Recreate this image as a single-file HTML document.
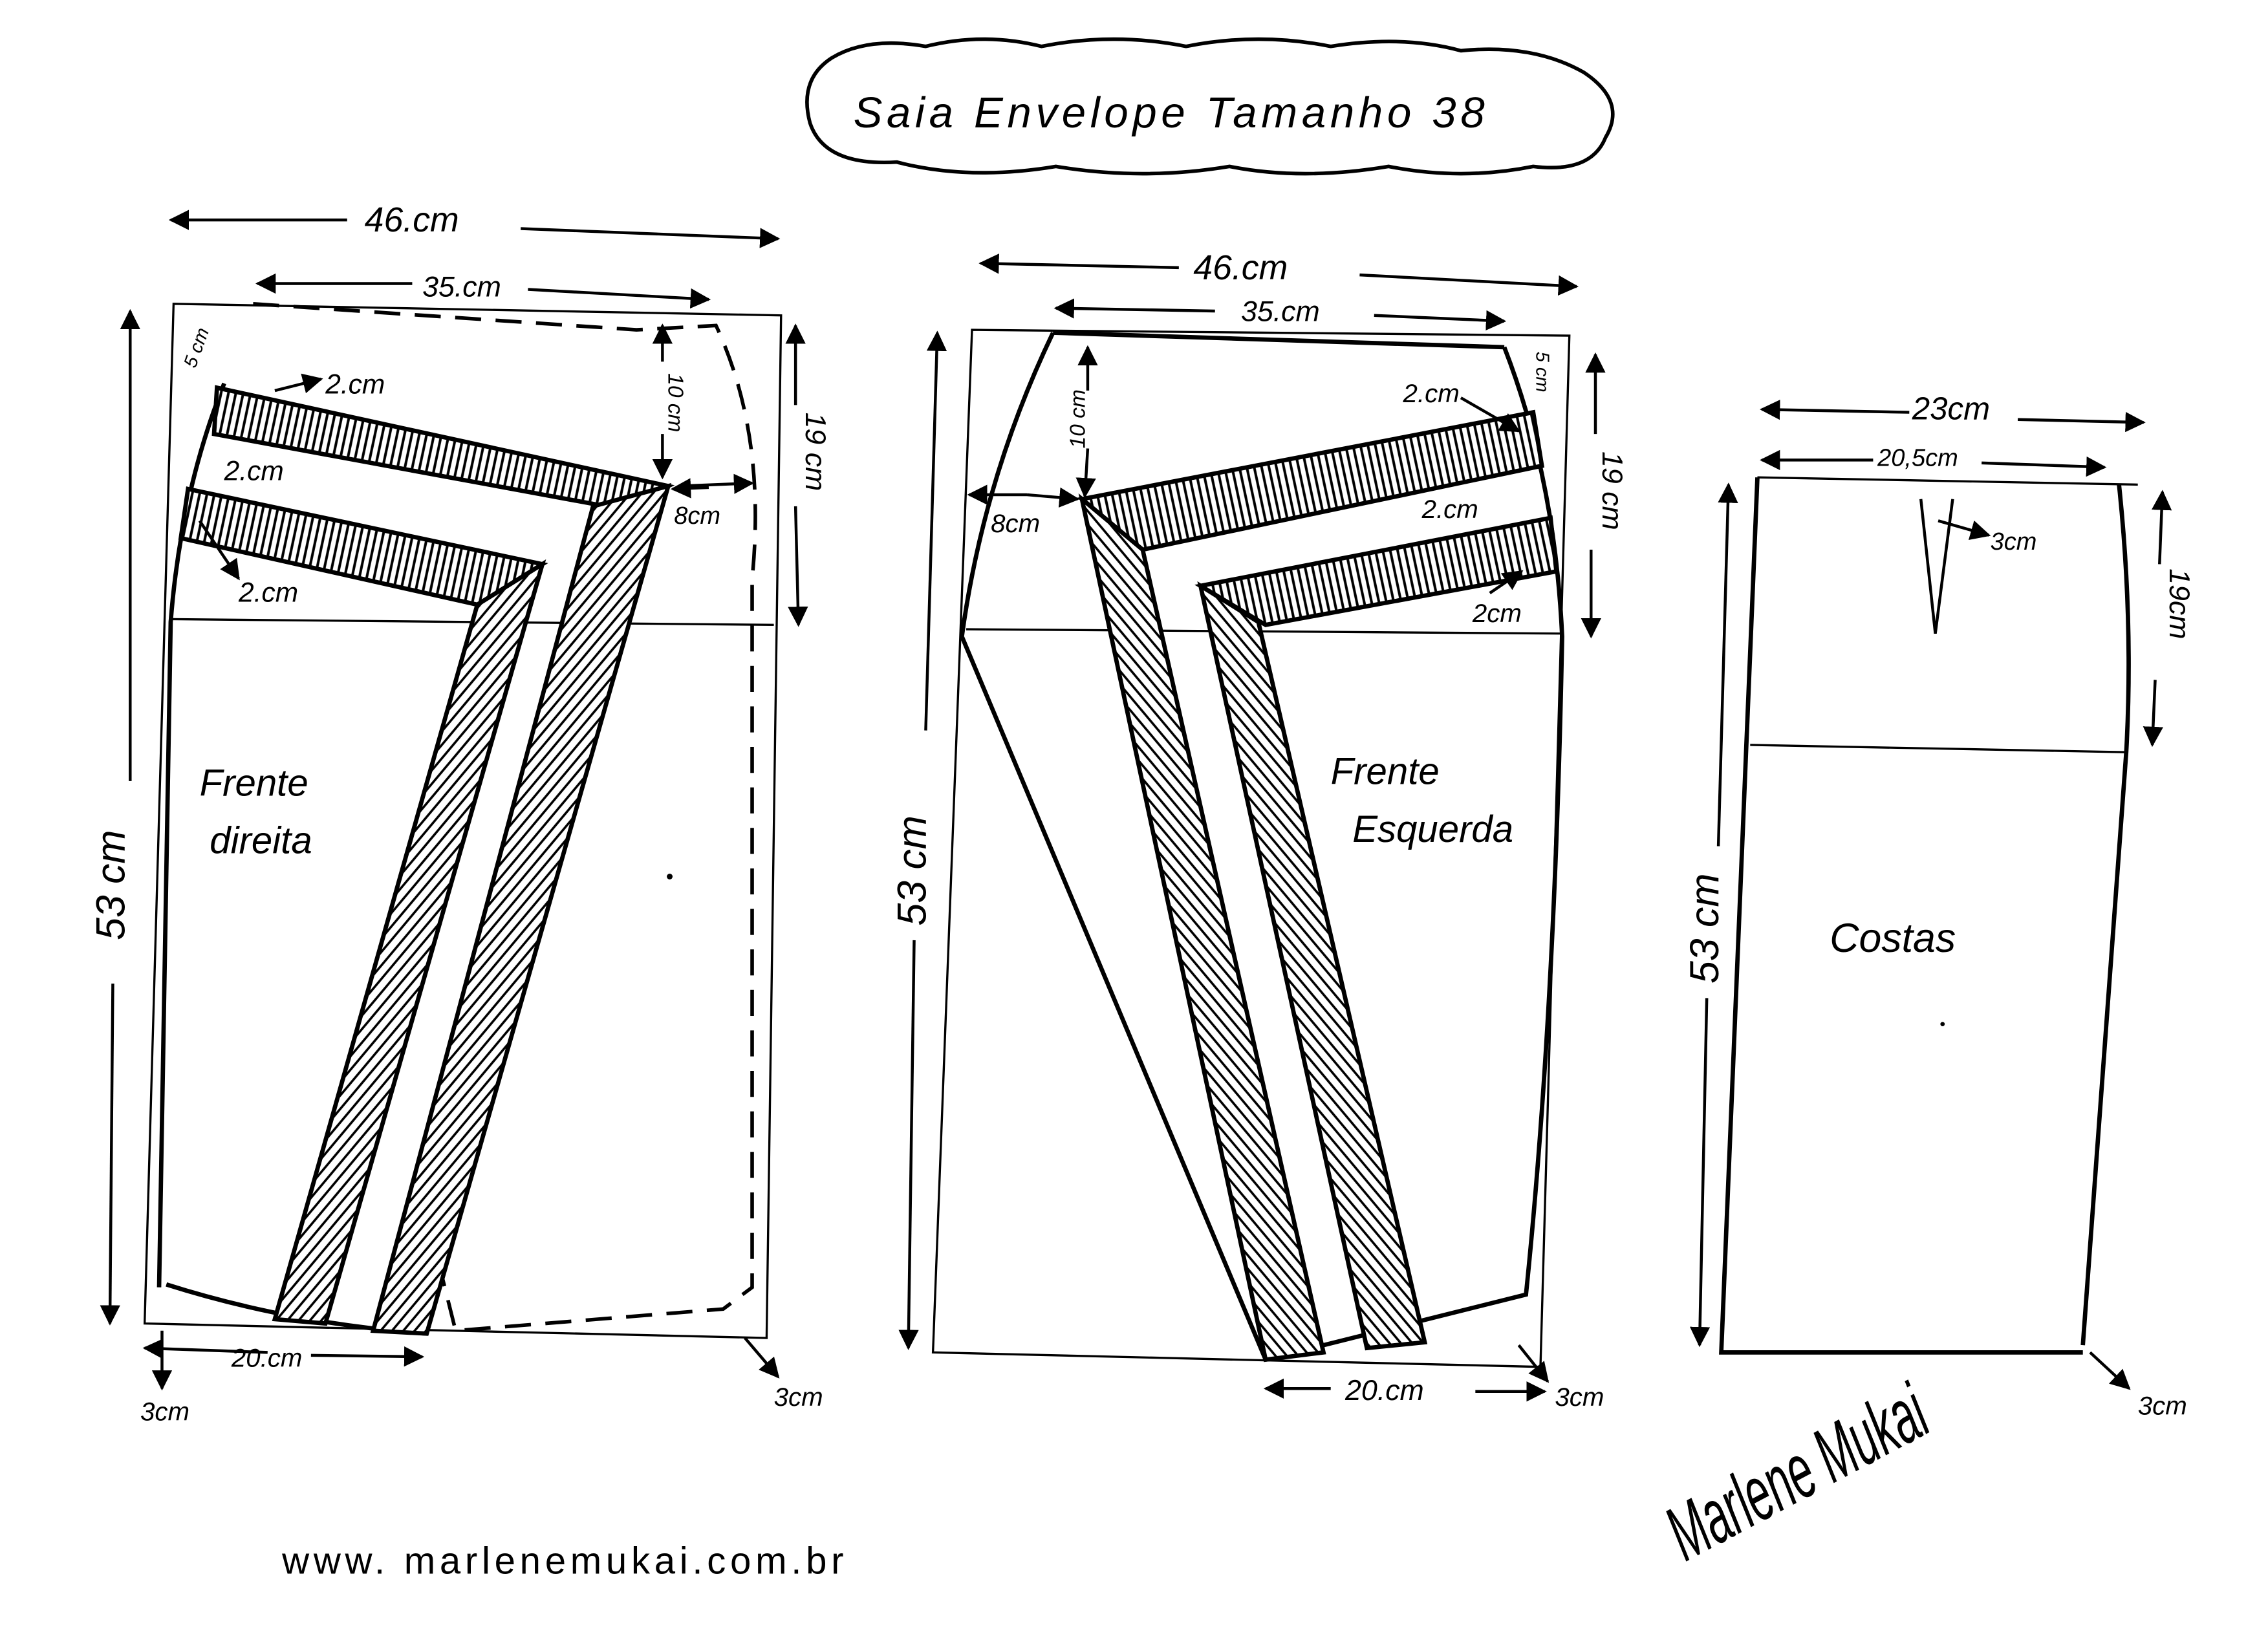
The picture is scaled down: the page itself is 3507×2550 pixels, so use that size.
<!DOCTYPE html>
<html><head><meta charset="utf-8"><style>
html,body{margin:0;padding:0;background:#fff;}
svg{display:block;}
text{font-family:"Liberation Sans",sans-serif;fill:#000;}
</style></head><body>
<svg width="3507" height="2550" viewBox="0 0 1568 1140" xmlns="http://www.w3.org/2000/svg">
<defs>
<pattern id="hv" patternUnits="userSpaceOnUse" width="5" height="5" patternTransform="rotate(12)"><rect width="5" height="5" fill="#fff"/><line x1="1" y1="0" x2="1" y2="5" stroke="#000" stroke-width="1.8"/></pattern>
<pattern id="hd" patternUnits="userSpaceOnUse" width="6" height="6" patternTransform="rotate(40)"><rect width="6" height="6" fill="#fff"/><line x1="1" y1="0" x2="1" y2="6" stroke="#000" stroke-width="1.6"/></pattern>
<pattern id="hv2" patternUnits="userSpaceOnUse" width="5" height="5" patternTransform="rotate(-12)"><rect width="5" height="5" fill="#fff"/><line x1="1" y1="0" x2="1" y2="5" stroke="#000" stroke-width="1.8"/></pattern>
<pattern id="hd2" patternUnits="userSpaceOnUse" width="6" height="6" patternTransform="rotate(-40)"><rect width="6" height="6" fill="#fff"/><line x1="1" y1="0" x2="1" y2="6" stroke="#000" stroke-width="1.6"/></pattern>
<marker id="a" viewBox="0 0 10 10" refX="9" refY="5" markerWidth="7" markerHeight="7" orient="auto-start-reverse"><path d="M0,0L10,5L0,10z" fill="#000"/></marker>
</defs>
<rect width="1568" height="1140" fill="#fff"/>
<path d="M575,40 Q600,25 640,32 Q680,22 720,32 Q770,22 820,32 Q870,22 920,32 Q970,24 1010,35 Q1060,30 1095,50 Q1125,70 1110,95 Q1100,120 1060,115 Q1010,125 960,115 Q900,125 850,115 Q790,125 730,115 Q670,125 620,112 Q570,115 560,85 Q552,55 575,40z" fill="none" stroke="#000" stroke-width="2.5"/>
<text x="590" y="88" font-size="30" font-style="italic" letter-spacing="3">Saia  Envelope  Tamanho 38</text>
<g stroke="#000" fill="none" stroke-width="1.5">
<path d="M120,210 L540,218 L530,925 L100,915 Z"/>
<line x1="118" y1="428" x2="535" y2="432"/>
</g>
<g stroke="#000" fill="none" stroke-width="3">
<path d="M155,265 Q125,340 118,430 L110,890"/>
<path d="M115,888 Q200,915 295,922"/>
<path d="M175,210 L440,228 L495,225 Q530,300 520,400 L520,890 L500,905 L315,920 L305,880" stroke-dasharray="18,10" stroke-width="2.5"/>
<polygon points="150,268 462,336 430,352 148,300" fill="url(#hv)"/>
<polygon points="462,336 295,922 258,920 410,350" fill="url(#hd)"/>
<polygon points="130,338 375,390 330,418 125,372" fill="url(#hv)"/>
<polygon points="375,390 225,915 190,912 330,418" fill="url(#hd)"/>
</g>
<g stroke="#000" stroke-width="2" fill="none">
<line x1="240" y1="152" x2="118" y2="152" marker-end="url(#a)"/>
<line x1="360" y1="158" x2="538" y2="165" marker-end="url(#a)"/>
<line x1="285" y1="196" x2="178" y2="196" marker-end="url(#a)"/>
<line x1="365" y1="200" x2="490" y2="207" marker-end="url(#a)"/>
<line x1="90" y1="540" x2="90" y2="215" marker-end="url(#a)"/>
<line x1="78" y1="680" x2="76" y2="915" marker-end="url(#a)"/>
<line x1="550" y1="280" x2="550" y2="225" marker-end="url(#a)"/>
<line x1="550" y1="350" x2="552" y2="432" marker-end="url(#a)"/>
<line x1="458" y1="250" x2="458" y2="225" marker-end="url(#a)"/>
<line x1="458" y1="300" x2="458" y2="330" marker-end="url(#a)"/>
<line x1="490" y1="337" x2="465" y2="338" marker-end="url(#a)"/>
<line x1="470" y1="336" x2="520" y2="334" marker-end="url(#a)"/>
<line x1="185" y1="935" x2="100" y2="932" marker-end="url(#a)"/>
<line x1="215" y1="937" x2="292" y2="938" marker-end="url(#a)"/>
<line x1="112" y1="920" x2="112" y2="960" marker-end="url(#a)"/>
<line x1="515" y1="925" x2="538" y2="952" marker-end="url(#a)"/>
<line x1="190" y1="270" x2="222" y2="262" marker-end="url(#a)"/>
<line x1="138" y1="360" x2="165" y2="400" marker-end="url(#a)"/>
</g>
<g font-style="italic">
<text x="252" y="160" font-size="24">46.cm</text>
<text x="292" y="205" font-size="20">35.cm</text>
<text x="225" y="272" font-size="19">2.cm</text>
<text x="155" y="332" font-size="19">2.cm</text>
<text x="165" y="416" font-size="19">2.cm</text>
<text x="466" y="362" font-size="17">8cm</text>
<text x="160" y="945" font-size="18">20.cm</text>
<text x="97" y="982" font-size="18">3cm</text>
<text x="535" y="972" font-size="18">3cm</text>
<text x="138" y="550" font-size="26">Frente</text>
<text x="145" y="590" font-size="26">direita</text>
<text transform="translate(86,650) rotate(-90)" font-size="28">53 cm</text>
<text transform="translate(557,285) rotate(90)" font-size="20">19 cm</text>
<text transform="translate(462,258) rotate(90)" font-size="15">10 cm</text>
<text transform="translate(135,255) rotate(-70)" font-size="13">5 cm</text>
</g>
<g stroke="#000" fill="none" stroke-width="1.5">
<path d="M672,228 L1085,232 L1065,945 L645,935 Z"/>
<line x1="668" y1="435" x2="1080" y2="438"/>
</g>
<g stroke="#000" fill="none" stroke-width="3">
<path d="M728,230 L1040,240"/>
<path d="M728,230 Q680,330 665,440 L875,940"/>
<path d="M1040,240 Q1075,330 1080,440 Q1075,700 1055,895 L875,940"/>
<polygon points="748,345 1060,285 1066,322 790,380" fill="url(#hv2)"/>
<polygon points="748,345 790,380 915,935 875,940" fill="url(#hd2)"/>
<polygon points="830,405 1072,358 1076,395 875,432" fill="url(#hv2)"/>
<polygon points="830,405 870,430 985,928 945,932" fill="url(#hd2)"/>
</g>
<g stroke="#000" stroke-width="2" fill="none">
<line x1="815" y1="185" x2="678" y2="182" marker-end="url(#a)"/>
<line x1="940" y1="190" x2="1090" y2="198" marker-end="url(#a)"/>
<line x1="840" y1="215" x2="730" y2="213" marker-end="url(#a)"/>
<line x1="950" y1="218" x2="1040" y2="222" marker-end="url(#a)"/>
<line x1="640" y1="505" x2="648" y2="230" marker-end="url(#a)"/>
<line x1="632" y1="650" x2="628" y2="932" marker-end="url(#a)"/>
<line x1="1103" y1="300" x2="1103" y2="245" marker-end="url(#a)"/>
<line x1="1100" y1="380" x2="1100" y2="440" marker-end="url(#a)"/>
<line x1="752" y1="270" x2="752" y2="240" marker-end="url(#a)"/>
<line x1="752" y1="310" x2="750" y2="343" marker-end="url(#a)"/>
<line x1="710" y1="342" x2="670" y2="342" marker-end="url(#a)"/>
<line x1="710" y1="342" x2="745" y2="345" marker-end="url(#a)"/>
<line x1="920" y1="960" x2="875" y2="960" marker-end="url(#a)"/>
<line x1="1020" y1="962" x2="1068" y2="962" marker-end="url(#a)"/>
<line x1="1050" y1="930" x2="1070" y2="955" marker-end="url(#a)"/>
<line x1="1010" y1="275" x2="1050" y2="298" marker-end="url(#a)"/>
<line x1="1030" y1="410" x2="1052" y2="395" marker-end="url(#a)"/>
</g>
<g font-style="italic">
<text x="825" y="193" font-size="24">46.cm</text>
<text x="858" y="222" font-size="20">35.cm</text>
<text x="970" y="278" font-size="18">2.cm</text>
<text x="983" y="358" font-size="18">2.cm</text>
<text x="1018" y="430" font-size="18">2cm</text>
<text x="685" y="368" font-size="18">8cm</text>
<text x="930" y="968" font-size="20">20.cm</text>
<text x="1075" y="972" font-size="18">3cm</text>
<text x="920" y="542" font-size="26">Frente</text>
<text x="935" y="582" font-size="26">Esquerda</text>
<text transform="translate(640,640) rotate(-90)" font-size="28">53 cm</text>
<text transform="translate(1108,312) rotate(90)" font-size="20">19 cm</text>
<text transform="translate(750,310) rotate(-90)" font-size="15">10 cm</text>
<text transform="translate(1062,243) rotate(90)" font-size="13">5 cm</text>
</g>
<g stroke="#000" fill="none" stroke-width="1.5">
<line x1="1215" y1="330" x2="1478" y2="335"/>
<line x1="1210" y1="515" x2="1470" y2="520"/>
</g>
<g stroke="#000" fill="none" stroke-width="3">
<path d="M1215,330 L1190,935 L1440,935"/>
<path d="M1465,335 Q1475,430 1470,520 L1440,930"/>
<path d="M1328,345 L1338,438 L1350,345" stroke-width="2"/>
</g>
<g stroke="#000" stroke-width="2" fill="none">
<line x1="1320" y1="285" x2="1218" y2="283" marker-end="url(#a)"/>
<line x1="1395" y1="290" x2="1482" y2="292" marker-end="url(#a)"/>
<line x1="1295" y1="318" x2="1218" y2="318" marker-end="url(#a)"/>
<line x1="1370" y1="320" x2="1455" y2="323" marker-end="url(#a)"/>
<line x1="1188" y1="585" x2="1195" y2="335" marker-end="url(#a)"/>
<line x1="1180" y1="690" x2="1175" y2="930" marker-end="url(#a)"/>
<line x1="1493" y1="390" x2="1495" y2="340" marker-end="url(#a)"/>
<line x1="1490" y1="470" x2="1488" y2="515" marker-end="url(#a)"/>
<line x1="1340" y1="360" x2="1375" y2="370" marker-end="url(#a)"/>
<line x1="1445" y1="935" x2="1472" y2="960" marker-end="url(#a)"/>
</g>
<g font-style="italic">
<text x="1322" y="290" font-size="22">23cm</text>
<text x="1298" y="322" font-size="17">20,5cm</text>
<text x="1376" y="380" font-size="17">3cm</text>
<text x="1478" y="978" font-size="18">3cm</text>
<text x="1265" y="658" font-size="28">Costas</text>
<text transform="translate(1188,680) rotate(-90)" font-size="28">53 cm</text>
<text transform="translate(1500,393) rotate(90)" font-size="20">19cm</text>
<text transform="translate(1165,1080) rotate(-28) scale(0.55,1)" font-size="54">Marlene Mukai</text>
</g>
<text x="195" y="1088" font-size="26" letter-spacing="3">www. marlenemukai.com.br</text>
<circle cx="463" cy="606" r="2" fill="#000"/>
<circle cx="1343" cy="708" r="1.5" fill="#000"/>
</svg>
</body></html>
